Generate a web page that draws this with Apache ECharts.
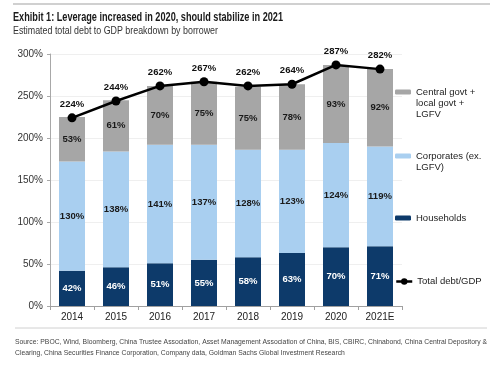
<!DOCTYPE html>
<html>
<head>
<meta charset="utf-8">
<script src="https://cdn.jsdelivr.net/npm/echarts@6/dist/echarts.min.js"></script>
<style>
html,body{margin:0;padding:0;background:#fff;}
#c{width:500px;height:367px;}
</style>
</head>
<body>
<div id="c"></div>
<script>
const categories = ['2014','2015','2016','2017','2018','2019','2020','2021E'];
const households = [42,46,51,55,58,63,70,71];
const corporates = [130,138,141,137,128,123,124,119];
const government = [53,61,70,75,75,78,93,92];
const totalDebt = [224,244,262,267,262,264,287,282];
const yTicks = [0,50,100,150,200,250,300];

const titleText = 'Exhibit 1: Leverage increased in 2020, should stabilize in 2021';
const subtitleText = 'Estimated total debt to GDP breakdown by borrower';
const sourceLine1 = 'Source: PBOC, Wind, Bloomberg, China Trustee Association, Asset Management Association of China, BIS, CBIRC, Chinabond, China Central Depository &';
const sourceLine2 = 'Clearing, China Securities Finance Corporation, Company data, Goldman Sachs Global Investment Research';

const SANS = '"Liberation Sans",Arial,sans-serif';

const mctx = document.createElement('canvas').getContext('2d');
function fitScale(text, font, target){ mctx.font = font; return target / mctx.measureText(text).width; }

const titleFont = 'bold 12px ' + SANS;
const subFont = '10.5px ' + SANS;
const srcFont = '8px ' + SANS;
const srcScale = fitScale(sourceLine1, srcFont, 472);

const chart = echarts.init(document.getElementById('c'), null, {renderer:'canvas'});

const barLabel = (color) => ({
  show:true, position:'inside', formatter:'{c}%',
  color: color, fontFamily: SANS, fontWeight:'bold', fontSize:9.5
});

const legendBase = {
  orient:'vertical', left:395, padding:0, itemWidth:16, itemHeight:5, itemGap:0,
  textStyle:{fontFamily:SANS, fontSize:9.5, lineHeight:11, color:'#222'}
};
const GOV = 'Central govt + local govt + LGFV';
const CORP = 'Corporates (ex. LGFV)';

chart.setOption({
  animation:false,
  backgroundColor:'#fff',
  graphic:[
    {type:'line', shape:{x1:13,y1:4,x2:490,y2:4}, style:{stroke:'#d0d0d0', lineWidth:2}},
    {type:'text', x:13, y:18, scaleX:fitScale(titleText, titleFont, 270),
     style:{text:titleText, font:titleFont, fill:'#1a1a1a', textVerticalAlign:'middle'}},
    {type:'text', x:13, y:31, scaleX:fitScale(subtitleText, subFont, 205),
     style:{text:subtitleText, font:subFont, fill:'#333', textVerticalAlign:'middle'}},
    {type:'line', shape:{x1:15,y1:328,x2:487,y2:328}, style:{stroke:'#d0d0d0', lineWidth:1}},
    {type:'text', x:15, y:342, scaleX:srcScale,
     style:{text:sourceLine1, font:srcFont, fill:'#444', textVerticalAlign:'middle'}},
    {type:'text', x:15, y:353, scaleX:srcScale,
     style:{text:sourceLine2, font:srcFont, fill:'#444', textVerticalAlign:'middle'}}
  ],
  grid:{left:50, right:98, top:54, bottom:61, containLabel:false},
  legend:[
    Object.assign({}, legendBase, {top:64.5, data:[GOV],
      formatter:()=> '\n\nCentral govt +\nlocal govt +\nLGFV'}),
    Object.assign({}, legendBase, {top:139.5, data:[CORP],
      formatter:()=> '\nCorporates (ex.\nLGFV)'}),
    Object.assign({}, legendBase, {top:212.5, data:['Households']}),
    Object.assign({}, legendBase, {top:276, itemWidth:16, itemHeight:8,
      lineStyle:{width:2.5, color:'#000'}, data:['Total debt/GDP']})
  ],
  xAxis:{
    type:'category', data:categories,
    axisLine:{lineStyle:{color:'#a0a0a0'}},
    axisTick:{show:true, alignWithLabel:false, length:4, lineStyle:{color:'#a0a0a0'}},
    axisLabel:{color:'#222', fontFamily:SANS, fontSize:10, margin:6}
  },
  yAxis:{
    type:'value', min:0, max:300, interval:50,
    axisLine:{show:true, lineStyle:{color:'#a8a8a8'}},
    axisTick:{show:true, length:3, lineStyle:{color:'#a8a8a8'}},
    axisLabel:{formatter:(v)=> yTicks.includes(v) ? v+'%' : '', color:'#333', fontFamily:SANS, fontSize:10, margin:7},
    splitLine:{show:true, lineStyle:{color:'#efefef'}}
  },
  series:[
    {name:'Households', type:'bar', stack:'d', data:households, barWidth:26,
     itemStyle:{color:'#0d3a6a'}, label:barLabel('#ffffff')},
    {name:CORP, type:'bar', stack:'d', data:corporates,
     itemStyle:{color:'#a9cff0'}, label:barLabel('#1a1a1a')},
    {name:GOV, type:'bar', stack:'d', data:government,
     itemStyle:{color:'#a6a6a6'}, label:barLabel('#1a1a1a')},
    {name:'Total debt/GDP', type:'line', data:totalDebt, symbol:'circle', symbolSize:9,
     lineStyle:{color:'#000', width:2.5}, itemStyle:{color:'#000'},
     label:{show:true, position:'top', distance:4, formatter:'{c}%', color:'#111', fontFamily:SANS, fontWeight:'bold', fontSize:9.5},
     z:5}
  ]
});
</script>
</body>
</html>
